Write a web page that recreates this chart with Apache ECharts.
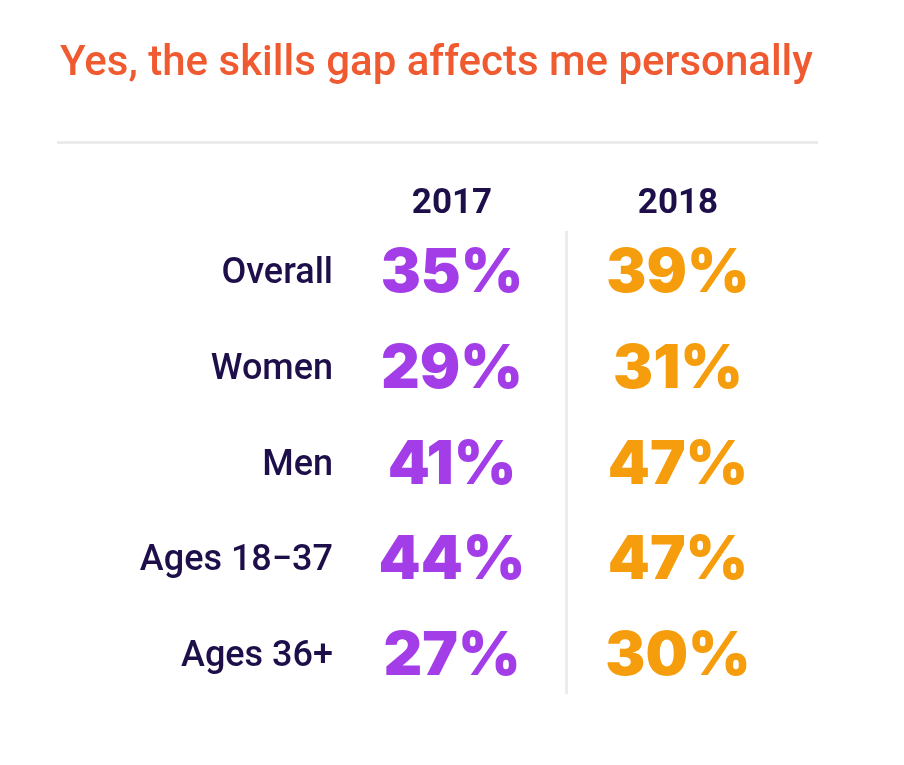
<!DOCTYPE html>
<html>
<head>
<meta charset="utf-8">
<script src="https://cdn.jsdelivr.net/npm/echarts@6/dist/echarts.min.js"></script>
<style>
  html, body { margin: 0; padding: 0; background: #fff; }
  #chart { width: 904px; height: 765px; }
</style>
</head>
<body>
<div id="chart"></div>
<script>
const titleText = 'Yes, the skills gap affects me personally';
const years = ['2017', '2018'];
const groups = ['Overall', 'Women', 'Men', 'Ages 18\u221237', 'Ages 36+'];
const values2017 = [35, 29, 41, 44, 27];
const values2018 = [39, 31, 47, 47, 30];

const navy = '#1e0f4b';
const purple = '#a33de8';
const orange = '#f59d0c';

const chart = echarts.init(document.getElementById('chart'));

// each series sits in its own column; the mark itself is only the label
const toPoints = (vals, year) => vals.map((v, i) => [year, groups[i], v]);

const valueLabel = color => ({
    show: true,
    position: 'inside',
    formatter: p => p.value[2] + '%',
    color: color,
    opacity: 1,
    fontFamily: 'Inter',
    fontWeight: 900,
    fontSize: 60
});

chart.setOption({
    animation: false,
    title: {
        text: titleText,
        left: 55,
        top: 38,
        textStyle: { color: '#f05a30', fontFamily: 'Roboto', fontWeight: 500, fontSize: 42 }
    },
    graphic: [
        // rule under the title
        { type: 'rect', shape: { x: 57, y: 141, width: 761, height: 3 }, style: { fill: '#ebebeb' } },
        // divider between the two years
        { type: 'rect', shape: { x: 565, y: 231, width: 3, height: 463 }, style: { fill: '#efebe6' } }
    ],
    grid: { left: 339, right: 113, top: 226, bottom: 60 },
    xAxis: {
        type: 'category',
        data: years,
        position: 'top',
        axisLine: { show: false },
        axisTick: { show: false },
        splitLine: { show: false },
        axisLabel: {
            margin: 4,
            color: navy,
            fontFamily: 'Roboto',
            fontWeight: 700,
            fontSize: 35
        }
    },
    yAxis: {
        type: 'category',
        data: groups,
        inverse: true,
        axisLine: { show: false },
        axisTick: { show: false },
        splitLine: { show: false },
        axisLabel: {
            margin: 6,
            color: navy,
            fontFamily: 'Roboto',
            fontWeight: 500,
            fontSize: 36
        }
    },
    series: [
        {
            name: years[0],
            type: 'scatter',
            symbolSize: 1,
            itemStyle: { color: 'transparent', opacity: 1 },
            data: toPoints(values2017, years[0]),
            label: valueLabel(purple)
        },
        {
            name: years[1],
            type: 'scatter',
            symbolSize: 1,
            itemStyle: { color: 'transparent', opacity: 1 },
            data: toPoints(values2018, years[1]),
            label: valueLabel(orange)
        }
    ]
});
</script>
</body>
</html>
